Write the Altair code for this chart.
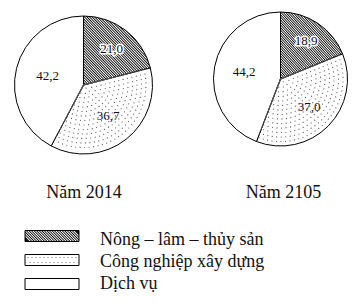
import math
import altair as alt
import pandas as pd

# ---------------- data ----------------
CATEGORIES = ["Nông – lâm – thủy sản", "Công nghiệp xây dựng", "Dịch vụ"]
YEARS = ["2014", "2105"]
TITLES = ["Năm 2014", "Năm 2105"]
VALUES_2014 = [21.0, 36.7, 42.2]
VALUES_2105 = [18.9, 37.0, 44.2]

rows = []
for year, vals in zip(YEARS, [VALUES_2014, VALUES_2105]):
    for i, (c, v) in enumerate(zip(CATEGORIES, vals)):
        rows.append({"year": year, "cat": c, "idx": i, "value": v})
df = pd.DataFrame(rows)
legend_df = pd.DataFrame({"cat": CATEGORIES, "idx": list(range(len(CATEGORIES)))})
title_df = pd.DataFrame({"year": YEARS, "title": TITLES})

# ---------------- styles ----------------
FONT = "Liberation Serif"


def stripes(n, dark, light, x1, y1, x2, y2):
    # soft triangle-wave stripes (less aliasing than hard stops)
    stops = []
    for i in range(n):
        stops.append({"offset": round(i / n, 5), "color": dark})
        stops.append({"offset": round((i + 0.5) / n, 5), "color": light})
    stops.append({"offset": 1, "color": dark})
    return {"gradient": "linear", "x1": x1, "y1": y1, "x2": x2, "y2": y2, "stops": stops}


HATCH_PIE = stripes(52, "#111111", "#ffffff", 0, 1, 1, 0)
HATCH_LEG = stripes(22, "#111111", "#ffffff", 0, 0.6, 1, 0.4)
THETA_SCALE = alt.Scale(domain=[0, 1], range=[0, 2 * math.pi])


def pie_layers(year, cx, cy, R):
    base = (
        alt.Chart(df)
        .transform_filter(f"datum.year === '{year}'")
        .transform_joinaggregate(total="sum(value)")
        .transform_window(cum="sum(value)", sort=[alt.SortField("idx")])
        .transform_calculate(
            t0="(datum.cum - datum.value) / datum.total",
            t1="datum.cum / datum.total",
            tm="(datum.cum - datum.value / 2) / datum.total",
            lbl="replace(format(datum.value, '.1f'), '.', ',')",
            lr="datum.idx === 0 ? 46 : (datum.idx === 1 ? 40 : 37)",
        )
    )
    pos = dict(x=alt.value(cx), y=alt.value(cy))
    slices = base.mark_arc(radius=R, stroke="black", strokeWidth=1).encode(
        theta=alt.Theta("t0:Q", scale=THETA_SCALE),
        theta2=alt.Theta2("t1:Q"),
        fill=alt.condition("datum.idx === 0", alt.value(HATCH_PIE), alt.value("white")),
        **pos,
    )
    dots = (
        base.transform_filter("datum.idx === 1")
        .transform_calculate(ring=f"sequence(4, {R - 2}, 4.5)")
        .transform_flatten(["ring"])
        .mark_arc(
            fill="transparent",
            stroke="#555555",
            strokeWidth=1.2,
            strokeCap="round",
            strokeDash=[0, 4.5],
        )
        .encode(
            theta=alt.Theta("t0:Q", scale=THETA_SCALE),
            theta2=alt.Theta2("t1:Q"),
            radius=alt.Radius("ring:Q", scale=None),
            **pos,
        )
    )
    text_enc = dict(
        theta=alt.Theta("tm:Q", scale=THETA_SCALE),
        radius=alt.Radius("lr:Q", scale=None),
        text=alt.Text("lbl:N"),
        **pos,
    )
    halo = (
        base.transform_filter("datum.idx === 0")
        .mark_text(font=FONT, fontSize=13, fill="white", stroke="white", strokeWidth=3, strokeJoin="round")
        .encode(**text_enc)
    )
    labels = base.mark_text(font=FONT, fontSize=13, color="#111111").encode(**text_enc)
    return [slices, dots, halo, labels]


pie1 = pie_layers("2014", 83.5, 85, 69)
pie2 = pie_layers("2105", 280.5, 79, 67)

titles = alt.Chart(title_df).mark_text(
    font=FONT, fontSize=18, color="#111111", baseline="alphabetic"
).encode(
    x=alt.X("year:N", scale=alt.Scale(type="point", domain=YEARS, range=[84, 283.5], padding=0), axis=None),
    y=alt.value(198),
    text=alt.Text("title:N"),
)

leg_boxes = alt.Chart(legend_df).mark_rect(stroke="black", strokeWidth=1).encode(
    y=alt.Y(
        "cat:N",
        scale=alt.Scale(type="band", domain=CATEGORIES, range=[230.5, 289.5], paddingInner=0.5417, paddingOuter=0),
        axis=None,
    ),
    x=alt.value(25),
    x2=alt.value(79),
    fill=alt.condition("datum.idx === 0", alt.value(HATCH_LEG), alt.value("white")),
)

leg_pt = alt.Scale(type="point", domain=CATEGORIES, range=[236, 284], padding=0)
leg_dots = [
    alt.Chart(legend_df)
    .transform_filter("datum.idx === 1")
    .mark_rule(
        stroke="#555555", strokeWidth=1.1, strokeCap="round", strokeDash=[0, 4], strokeDashOffset=off, yOffset=dy
    )
    .encode(y=alt.Y("cat:N", scale=leg_pt, axis=None), x=alt.value(28), x2=alt.value(77))
    for dy, off in [(-2.5, 0), (2.5, 2)]
]

leg_text = alt.Chart(legend_df).mark_text(
    font=FONT, fontSize=18, color="#111111", align="left", baseline="alphabetic"
).encode(
    y=alt.Y("cat:N", scale=alt.Scale(type="point", domain=CATEGORIES, range=[245, 288.5], padding=0), axis=None),
    x=alt.value(100),
    text=alt.Text("cat:N"),
)

chart = (
    alt.layer(*pie1, *pie2, titles, leg_boxes, *leg_dots, leg_text)
    .resolve_scale(y="independent")
    .properties(width=360, height=306, autosize=alt.AutoSizeParams(type="none"), padding=0, background="white")
    .configure_view(strokeWidth=0)
)

chart.save("out.html", embed_options={"renderer": "svg", "actions": False})
